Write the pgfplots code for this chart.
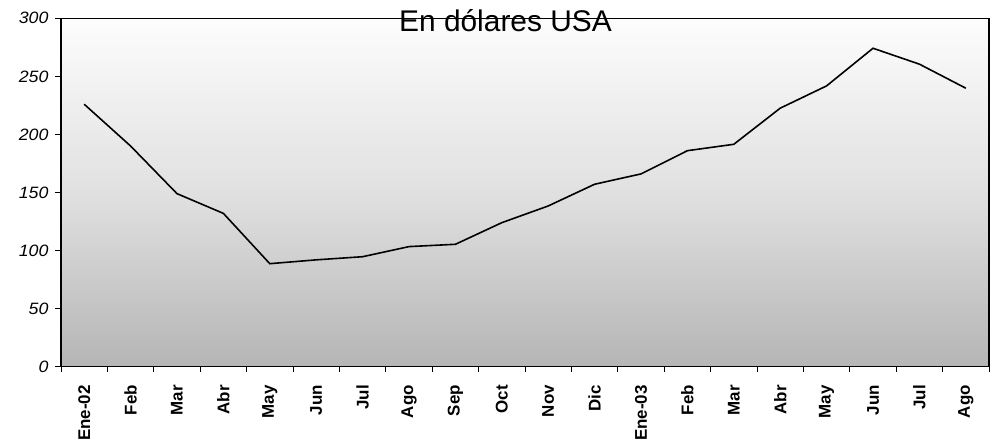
\documentclass[border=0pt]{standalone}
\usepackage{pgfplots}
\pgfplotsset{compat=1.18}
\usepackage{fontspec}
\setmainfont{Liberation Sans}
\usepackage{graphicx}
\begin{document}
\begin{tikzpicture}[x=1bp,y=1bp]
\path[use as bounding box] (0,0) rectangle (996,442);
\begin{axis}[
  at={(61bp,75.3bp)}, anchor=south west,
  scale only axis, width=928bp, height=348.4bp,
  xmin=-0.5, xmax=19.5, ymin=0, ymax=300,
  ytick={0,50,...,300},
  xtick={0,...,19},
  xtick pos=bottom, ytick pos=left,
  major x tick style={draw=none},
  minor xtick={-0.5,0.5,...,19.5},
  xticklabels={Ene-02,Feb,Mar,Abr,May,Jun,Jul,Ago,Sep,Oct,Nov,Dic,Ene-03,Feb,Mar,Abr,May,Jun,Jul,Ago},
  x tick label style={rotate=90, anchor=east, font=\fontsize{17}{17}\selectfont\bfseries, xshift=-9bp},
  y tick label style={font=\fontsize{16.5}{16.5}\selectfont\itshape, xshift=-3bp},
  yticklabel={\scalebox{1.08}[1]{\pgfmathprintnumber[assume math mode=true]{\tick}}},
  tick align=outside,
  major tick length=6bp, minor tick length=5bp,
  every tick/.style={black, line width=1pt},
  axis line style={black, line width=1.2pt},
  axis background/.style={shade, top color=white!99!black, bottom color=black!29, middle color=black!12},
  clip=false,
]
\addplot[black, line width=1.6pt] coordinates {
(0,226) (1,190) (2,149) (3,132) (4,88.7) (5,92) (6,94.7) (7,103.4) (8,105.4) (9,124)
(10,138.4) (11,157.1) (12,166) (13,186) (14,191.5) (15,222.6) (16,241.8) (17,274.2) (18,260.5) (19,239.8)
};
\end{axis}
\node[font=\fontsize{30}{30}\selectfont, anchor=base] at (505.5, 442-32) {En dólares USA};
\end{tikzpicture}
\end{document}
